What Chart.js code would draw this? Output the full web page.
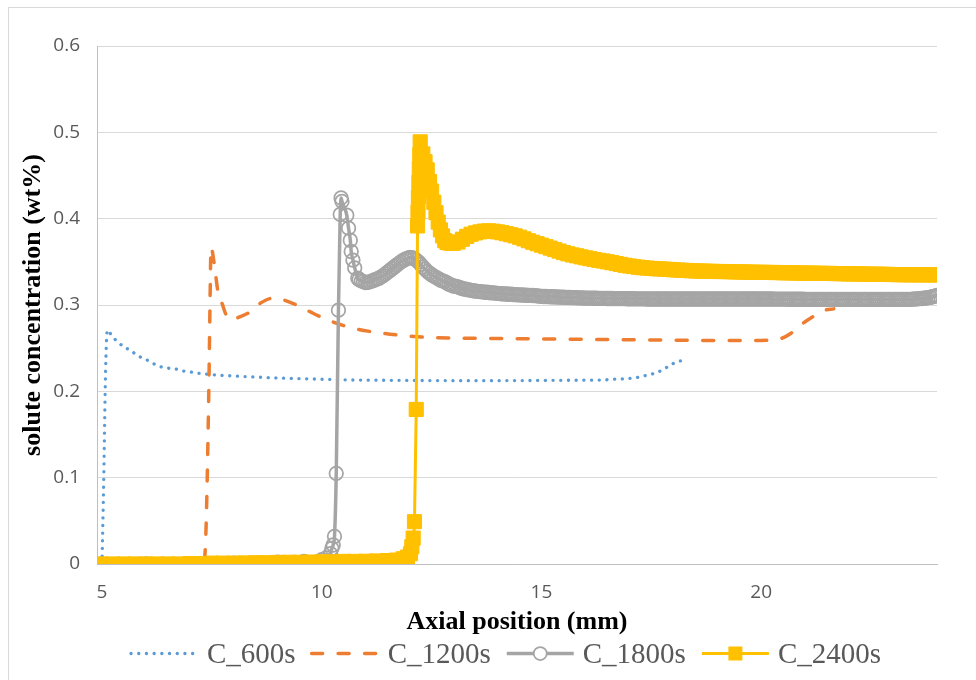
<!DOCTYPE html>
<html>
<head>
<meta charset="utf-8">
<script src="https://cdn.jsdelivr.net/npm/chart.js@4.4.1/dist/chart.umd.min.js"></script>
<style>
  html, body { margin: 0; padding: 0; background: #ffffff; }
  #wrap { position: relative; width: 976px; height: 680px; }
</style>
</head>
<body>
<div id="wrap"><canvas id="chart" width="976" height="680"></canvas></div>
<script>
// Series names
const seriesNames = ['C_600s', 'C_1200s', 'C_1800s', 'C_2400s'];

// Axis ticks
const xTicks = [5, 10, 15, 20];
const yTicks = [0, 0.1, 0.2, 0.3, 0.4, 0.5, 0.6];

// Each series: [axial position (mm), solute concentration (wt%)]
const c600 = [
  [5.0, 0], [5.04, 0.1], [5.08, 0.22], [5.12, 0.271], [5.23, 0.264], [5.36, 0.257],
  [5.52, 0.251], [5.66, 0.247], [5.82, 0.241], [5.98, 0.2375], [6.14, 0.233], [6.30, 0.229],
  [6.48, 0.227], [6.66, 0.226], [6.85, 0.2236], [7.00, 0.2225], [7.19, 0.221], [7.37, 0.220],
  [7.55, 0.219], [7.92, 0.218], [8.44, 0.2167], [8.99, 0.2155], [9.74, 0.2144], [10.65, 0.2132],
  [11.5, 0.2128], [12.5, 0.2125], [13.5, 0.2123], [14.5, 0.2125], [15.5, 0.2128], [16.42, 0.2132],
  [16.61, 0.214], [16.80, 0.2144], [16.99, 0.215], [17.16, 0.2159], [17.33, 0.2178], [17.50, 0.2198],
  [17.67, 0.2228], [17.84, 0.2275], [17.99, 0.232], [18.15, 0.2352], [18.33, 0.2352]
];

const c1200 = [
  [4.98, 0], [7.30, 0], [7.36, 0.03], [7.43, 0.2], [7.46, 0.31], [7.48, 0.367],
  [7.55, 0.349], [7.64, 0.315], [7.73, 0.302], [7.85, 0.286], [7.98, 0.283], [8.08, 0.285],
  [8.37, 0.292], [8.60, 0.302], [8.90, 0.308], [9.12, 0.306], [9.51, 0.298], [9.74, 0.292],
  [10.12, 0.283], [10.72, 0.273], [11.33, 0.2677], [11.94, 0.2642], [12.55, 0.2622], [13.5, 0.2615],
  [14.5, 0.261], [15.5, 0.2605], [16.5, 0.26], [17.5, 0.2595], [18.62, 0.259], [19.37, 0.259],
  [19.99, 0.259], [20.44, 0.261], [20.67, 0.267], [20.90, 0.277], [21.13, 0.285], [21.42, 0.2935],
  [21.65, 0.2955]
];

const c1800 = [
  [4.98, 0], [6.0, 0], [7.0, 0], [8.0, 0.001], [9.0, 0.002], [9.6, 0.003],
  [10.0, 0.005], [10.1, 0.007], [10.2, 0.012], [10.23, 0.018], [10.26, 0.022], [10.29, 0.032],
  [10.33, 0.105], [10.38, 0.294], [10.42, 0.405], [10.44, 0.424], [10.46, 0.42], [10.57, 0.404],
  [10.61, 0.389], [10.65, 0.375], [10.67, 0.362], [10.71, 0.352], [10.75, 0.343], [10.82, 0.331],
  [10.85, 0.3295], [10.90, 0.328], [10.95, 0.327], [11.00, 0.326], [11.05, 0.3262], [11.10, 0.327],
  [11.15, 0.328], [11.20, 0.329], [11.25, 0.330], [11.30, 0.331], [11.35, 0.3325], [11.40, 0.334],
  [11.45, 0.336], [11.50, 0.338], [11.55, 0.340], [11.60, 0.342], [11.65, 0.344], [11.70, 0.346],
  [11.75, 0.348], [11.80, 0.350], [11.85, 0.3515], [11.90, 0.353], [11.95, 0.354], [12.00, 0.355],
  [12.05, 0.3548], [12.10, 0.354], [12.15, 0.352], [12.20, 0.350], [12.25, 0.347], [12.30, 0.344],
  [12.35, 0.3415], [12.40, 0.339], [12.45, 0.337], [12.50, 0.335], [12.55, 0.3335], [12.60, 0.332],
  [12.65, 0.3305], [12.70, 0.329], [12.75, 0.328], [12.80, 0.327], [12.85, 0.3255], [12.90, 0.324],
  [12.95, 0.323], [13.00, 0.322], [13.05, 0.3215], [13.10, 0.321], [13.15, 0.320], [13.20, 0.319],
  [13.25, 0.3185], [13.30, 0.318], [13.35, 0.3175], [13.40, 0.317], [13.45, 0.3165], [13.50, 0.316],
  [13.55, 0.3158], [13.60, 0.3155], [13.65, 0.3152], [13.70, 0.315], [13.75, 0.3148], [13.80, 0.3145],
  [13.85, 0.3142], [13.90, 0.314], [13.95, 0.3138], [14.00, 0.3135], [14.05, 0.3132], [14.10, 0.313],
  [14.15, 0.3128], [14.20, 0.3127], [14.25, 0.3125], [14.30, 0.3124], [14.35, 0.3122], [14.40, 0.312],
  [14.45, 0.3118], [14.50, 0.3117], [14.55, 0.3116], [14.60, 0.3115], [14.65, 0.3113], [14.70, 0.3112],
  [14.75, 0.3111], [14.80, 0.311], [14.85, 0.3108], [14.90, 0.3105], [14.95, 0.3102], [15.00, 0.310],
  [15.05, 0.3099], [15.10, 0.3098], [15.15, 0.3097], [15.20, 0.3096], [15.25, 0.3095], [15.30, 0.3094],
  [15.35, 0.3093], [15.40, 0.3092], [15.45, 0.3091], [15.50, 0.309], [15.55, 0.3089], [15.60, 0.3088],
  [15.65, 0.3087], [15.70, 0.3086], [15.75, 0.3085], [15.80, 0.3084], [15.85, 0.3083], [15.90, 0.3082],
  [15.95, 0.3081], [16.00, 0.308], [16.05, 0.308], [16.10, 0.3079], [16.15, 0.3079], [16.20, 0.3078],
  [16.25, 0.3078], [16.30, 0.3077], [16.35, 0.3077], [16.40, 0.3076], [16.45, 0.3076], [16.50, 0.3075],
  [16.55, 0.3075], [16.60, 0.3075], [16.65, 0.3074], [16.70, 0.3074], [16.75, 0.3074], [16.80, 0.3073],
  [16.85, 0.3073], [16.90, 0.3073], [16.95, 0.3072], [17.00, 0.3072], [17.05, 0.3072], [17.10, 0.3072],
  [17.15, 0.3071], [17.20, 0.3071], [17.25, 0.3071], [17.30, 0.3071], [17.35, 0.3071], [17.40, 0.307],
  [17.45, 0.307], [17.50, 0.307], [17.55, 0.307], [17.60, 0.307], [17.65, 0.307], [17.70, 0.307],
  [17.75, 0.307], [17.80, 0.307], [17.85, 0.307], [17.90, 0.307], [17.95, 0.307], [18.00, 0.307],
  [18.05, 0.307], [18.10, 0.307], [18.15, 0.307], [18.20, 0.307], [18.25, 0.307], [18.30, 0.307],
  [18.35, 0.307], [18.40, 0.307], [18.45, 0.307], [18.50, 0.307], [18.55, 0.307], [18.60, 0.307],
  [18.65, 0.307], [18.70, 0.307], [18.75, 0.307], [18.80, 0.307], [18.85, 0.307], [18.90, 0.307],
  [18.95, 0.307], [19.00, 0.307], [19.05, 0.307], [19.10, 0.307], [19.15, 0.307], [19.20, 0.307],
  [19.25, 0.307], [19.30, 0.307], [19.35, 0.307], [19.40, 0.307], [19.45, 0.307], [19.50, 0.307],
  [19.55, 0.307], [19.60, 0.307], [19.65, 0.307], [19.70, 0.307], [19.75, 0.307], [19.80, 0.307],
  [19.85, 0.307], [19.90, 0.307], [19.95, 0.307], [20.00, 0.307], [20.05, 0.307], [20.10, 0.3069],
  [20.15, 0.3069], [20.20, 0.3069], [20.25, 0.3069], [20.30, 0.3068], [20.35, 0.3068], [20.40, 0.3068],
  [20.45, 0.3068], [20.50, 0.3068], [20.55, 0.3068], [20.60, 0.3067], [20.65, 0.3067], [20.70, 0.3067],
  [20.75, 0.3067], [20.80, 0.3067], [20.85, 0.3067], [20.90, 0.3067], [20.95, 0.3067], [21.00, 0.3066],
  [21.05, 0.3066], [21.10, 0.3066], [21.15, 0.3066], [21.20, 0.3066], [21.25, 0.3066], [21.30, 0.3066],
  [21.35, 0.3066], [21.40, 0.3066], [21.45, 0.3066], [21.50, 0.3066], [21.55, 0.3066], [21.60, 0.3066],
  [21.65, 0.3066], [21.70, 0.3066], [21.75, 0.3066], [21.80, 0.3066], [21.85, 0.3066], [21.90, 0.3066],
  [21.95, 0.3066], [22.00, 0.3066], [22.05, 0.3066], [22.10, 0.3066], [22.15, 0.3066], [22.20, 0.3066],
  [22.25, 0.3066], [22.30, 0.3066], [22.35, 0.3066], [22.40, 0.3066], [22.45, 0.3066], [22.50, 0.3065],
  [22.55, 0.3065], [22.60, 0.3065], [22.65, 0.3065], [22.70, 0.3065], [22.75, 0.3065], [22.80, 0.3065],
  [22.85, 0.3065], [22.90, 0.3065], [22.95, 0.3065], [23.00, 0.3065], [23.05, 0.3065], [23.10, 0.3065],
  [23.15, 0.3065], [23.20, 0.3065], [23.25, 0.3065], [23.30, 0.3065], [23.35, 0.3065], [23.40, 0.3066],
  [23.45, 0.3068], [23.50, 0.307], [23.55, 0.3071], [23.60, 0.3073], [23.65, 0.3075], [23.70, 0.3078],
  [23.75, 0.3081], [23.80, 0.3085], [23.85, 0.309], [23.90, 0.3095], [23.95, 0.3102], [24.00, 0.311]
];

const c2400 = [
  [4.98, 0], [5.25, 0], [5.5, 0], [5.75, 0], [6.0, 0], [6.25, 0],
  [6.5, 0], [6.75, 0], [7.0, 0.0005], [7.25, 0.0005], [7.5, 0.001], [7.75, 0.001],
  [8.0, 0.001], [8.25, 0.0012], [8.5, 0.0015], [8.75, 0.0015], [9.0, 0.0018], [9.25, 0.002],
  [9.5, 0.002], [9.75, 0.0022], [10.0, 0.0025], [10.25, 0.0025], [10.5, 0.003], [10.75, 0.003],
  [11.0, 0.0032], [11.25, 0.0035], [11.5, 0.004], [11.7, 0.0045], [11.85, 0.006], [11.95, 0.008],
  [12.02, 0.012], [12.05, 0.02], [12.08, 0.03], [12.11, 0.049], [12.15, 0.179], [12.18, 0.3916],
  [12.19, 0.408], [12.20, 0.425], [12.21, 0.442], [12.22, 0.458], [12.23, 0.474], [12.24, 0.489],
  [12.30, 0.475], [12.35, 0.466], [12.40, 0.4566], [12.45, 0.443], [12.50, 0.432], [12.55, 0.419],
  [12.60, 0.407], [12.65, 0.396], [12.70, 0.387], [12.75, 0.380], [12.80, 0.3745], [12.85, 0.3725],
  [12.90, 0.372], [12.95, 0.3715], [13.00, 0.3716], [13.10, 0.373], [13.20, 0.3762], [13.30, 0.3795],
  [13.40, 0.382], [13.50, 0.3835], [13.60, 0.3847], [13.70, 0.3856], [13.80, 0.3859], [13.90, 0.3855],
  [14.00, 0.3847], [14.10, 0.3837], [14.20, 0.3826], [14.30, 0.3814], [14.40, 0.3801], [14.50, 0.3785],
  [14.60, 0.3766], [14.70, 0.3745], [14.80, 0.3727], [14.90, 0.371], [15.00, 0.3693], [15.10, 0.3676],
  [15.20, 0.3659], [15.30, 0.3642], [15.40, 0.3625], [15.50, 0.3607], [15.60, 0.3593], [15.70, 0.358],
  [15.80, 0.357], [15.90, 0.3558], [16.00, 0.3547], [16.10, 0.3537], [16.20, 0.3527], [16.30, 0.3518],
  [16.40, 0.351], [16.50, 0.350], [16.60, 0.349], [16.70, 0.348], [16.80, 0.347], [16.90, 0.346],
  [17.00, 0.3452], [17.10, 0.3445], [17.20, 0.3438], [17.30, 0.3432], [17.40, 0.3428], [17.50, 0.3424],
  [17.60, 0.342], [17.70, 0.3418], [17.80, 0.3415], [17.90, 0.3412], [18.00, 0.3408], [18.10, 0.3405],
  [18.20, 0.3402], [18.30, 0.340], [18.40, 0.3397], [18.50, 0.3395], [18.60, 0.3393], [18.70, 0.3392],
  [18.80, 0.339], [18.90, 0.3389], [19.00, 0.3388], [19.10, 0.3388], [19.20, 0.3387], [19.30, 0.3386],
  [19.40, 0.3384], [19.50, 0.3383], [19.60, 0.3382], [19.70, 0.3381], [19.80, 0.338], [19.90, 0.3379],
  [20.00, 0.3378], [20.10, 0.3378], [20.20, 0.3377], [20.30, 0.3376], [20.40, 0.3376], [20.50, 0.3374],
  [20.60, 0.3373], [20.70, 0.3372], [20.80, 0.3371], [20.90, 0.337], [21.00, 0.337], [21.10, 0.3369],
  [21.20, 0.3368], [21.30, 0.3367], [21.40, 0.3366], [21.50, 0.3366], [21.60, 0.3365], [21.70, 0.3364],
  [21.80, 0.3363], [21.90, 0.3362], [22.00, 0.3361], [22.10, 0.336], [22.20, 0.336], [22.30, 0.3359],
  [22.40, 0.3358], [22.50, 0.3357], [22.60, 0.3356], [22.70, 0.3356], [22.80, 0.3355], [22.90, 0.3354],
  [23.00, 0.3353], [23.10, 0.3352], [23.20, 0.3351], [23.30, 0.3351], [23.40, 0.335], [23.50, 0.335],
  [23.60, 0.335], [23.70, 0.3349], [23.80, 0.3349], [23.90, 0.3349], [24.00, 0.3349]
];

const toPoints = pairs => pairs.map(p => ({ x: p[0], y: p[1] }));

// Light frame around the whole chart
const frame = {
  id: 'frame',
  beforeDraw(chart) {
    const ctx = chart.ctx;
    ctx.save();
    ctx.fillStyle = '#ffffff';
    ctx.fillRect(0, 0, chart.width, chart.height);
    ctx.strokeStyle = '#D9D9D9';
    ctx.lineWidth = 1;
    ctx.strokeRect(8.5, 7.5, 1000, 700);
    ctx.restore();
  }
};

// Legend row under the axis title: line sample + marker + label
const legendRow = {
  id: 'legendRow',
  afterDraw(chart) {
    const ctx = chart.ctx;
    const lineY = 653.5;
    const textY = 663;
    const sampleW = 67;
    let x = 131;
    ctx.save();
    ctx.font = '29px "Liberation Serif"';
    ctx.textBaseline = 'alphabetic';
    chart.data.datasets.forEach(ds => {
      ctx.beginPath();
      ctx.setLineDash(ds.borderDash || []);
      ctx.lineCap = ds.borderCapStyle || 'butt';
      ctx.lineWidth = ds.borderWidth;
      ctx.strokeStyle = ds.borderColor;
      ctx.moveTo(x, lineY);
      ctx.lineTo(x + sampleW, lineY);
      ctx.stroke();
      ctx.setLineDash([]);
      const cx = x + sampleW / 2;
      if (ds.pointStyle === 'circle' && ds.pointRadius > 0) {
        ctx.beginPath();
        ctx.arc(cx, lineY, 6.5, 0, Math.PI * 2);
        ctx.fillStyle = '#ffffff';
        ctx.fill();
        ctx.lineWidth = ds.pointBorderWidth;
        ctx.strokeStyle = ds.pointBorderColor;
        ctx.stroke();
      } else if (ds.pointStyle === 'rect' && ds.pointRadius > 0) {
        const s = 14;
        ctx.fillStyle = ds.pointBackgroundColor;
        ctx.fillRect(cx - s / 2, lineY - s / 2, s, s);
      }
      ctx.fillStyle = '#595959';
      const tx = x + sampleW + 9;
      ctx.fillText(ds.label, tx, textY);
      x = tx + ctx.measureText(ds.label).width + 16;
    });
    ctx.restore();
  }
};

new Chart(document.getElementById('chart'), {
  type: 'line',
  data: {
    datasets: [
      {
        label: seriesNames[0],
        data: toPoints(c600),
        borderColor: '#5B9BD5',
        borderWidth: 3.3,
        borderDash: [0.1, 7.6],
        borderCapStyle: 'round',
        pointRadius: 0,
        cubicInterpolationMode: 'monotone',
        order: 3
      },
      {
        label: seriesNames[1],
        data: toPoints(c1200),
        borderColor: '#ED7D31',
        borderWidth: 3.5,
        borderDash: [11, 15.5],
        borderCapStyle: 'round',
        pointRadius: 0,
        cubicInterpolationMode: 'monotone',
        order: 2
      },
      {
        label: seriesNames[2],
        data: toPoints(c1800),
        borderColor: '#A5A5A5',
        borderWidth: 3.5,
        pointStyle: 'circle',
        pointRadius: 6.8,
        pointBorderWidth: 1.75,
        pointBorderColor: '#A5A5A5',
        pointBackgroundColor: 'rgba(255,255,255,0)',
        cubicInterpolationMode: 'monotone',
        order: 1
      },
      {
        label: seriesNames[3],
        data: toPoints(c2400),
        borderColor: '#FFC000',
        borderWidth: 3,
        pointStyle: 'rect',
        pointRadius: 10,
        pointBorderWidth: 1,
        pointBorderColor: '#FFC000',
        pointBackgroundColor: '#FFC000',
        cubicInterpolationMode: 'monotone',
        order: 0
      }
    ]
  },
  options: {
    responsive: false,
    animation: false,
    events: [],
    layout: { padding: { left: 10, right: 39, top: 46, bottom: 38 } },
    plugins: {
      legend: { display: false },
      tooltip: { enabled: false }
    },
    scales: {
      x: {
        type: 'linear',
        min: 4.886,
        max: 24.0,
        afterBuildTicks(scale) { scale.ticks = xTicks.map(v => ({ value: v })); },
        afterFit(scale) { scale.height = 78; },
        grid: { display: false, drawTicks: false },
        border: { display: true, color: '#BFBFBF', width: 1 },
        ticks: {
          font: { family: '"Open Sans"', size: 19 },
          color: '#595959',
          padding: 17.5,
          maxRotation: 0
        },
        title: {
          display: true,
          text: 'Axial position (mm)',
          font: { family: '"Liberation Serif"', size: 26, weight: 'bold' },
          color: '#000000',
          padding: { top: 0, bottom: 4.4 }
        }
      },
      y: {
        min: 0,
        max: 0.6,
        afterBuildTicks(scale) { scale.ticks = yTicks.map(v => ({ value: v })); },
        afterFit(scale) { scale.width = 87; },
        grid: { color: '#D9D9D9', lineWidth: 1, drawTicks: false },
        border: { display: true, color: '#BFBFBF', width: 1 },
        ticks: {
          font: { family: '"Open Sans"', size: 19 },
          color: '#595959',
          padding: 17
        },
        title: {
          display: true,
          text: 'solute concentration (wt%)',
          font: { family: '"Liberation Serif"', size: 26, weight: 'bold' },
          color: '#000000',
          padding: { top: 7.4, bottom: 0 }
        }
      }
    }
  },
  plugins: [frame, legendRow]
});
</script>
</body>
</html>
